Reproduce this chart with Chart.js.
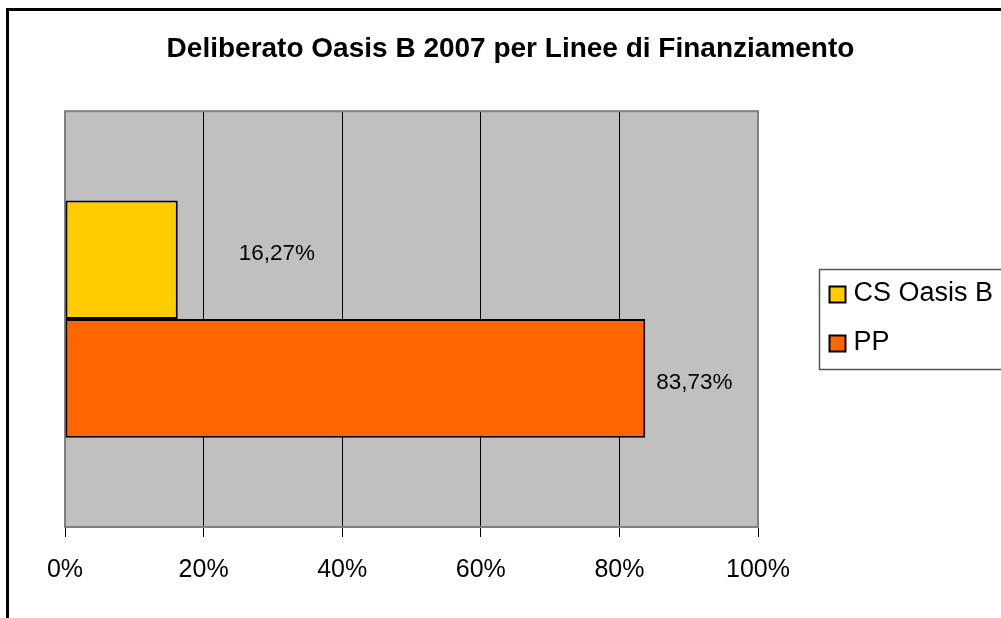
<!DOCTYPE html>
<html><head><meta charset="utf-8">
<script src="https://cdn.jsdelivr.net/npm/chart.js@4"></script>
<style>html,body{margin:0;padding:0;background:#fff;overflow:hidden}#wrap{width:1001px;height:618px;position:relative}</style>
</head><body><div id="wrap"><canvas id="c" width="1001" height="618"></canvas></div>
<script>
const chartTitle = 'Deliberato Oasis B 2007 per Linee di Finanziamento';
const categories = ['Linee di Finanziamento'];
const seriesNames = ['CS Oasis B', 'PP'];
const csOasisB = [16.27];
const pp = [83.73];
const seriesColors = ['#FFCC00', '#FF6600'];
const xTickValues = [0, 20, 40, 60, 80, 100];

const FONT = "'Liberation Sans', Arial, sans-serif";
function fmtPct(v, dec) { return v.toFixed(dec).replace('.', ',') + '%'; }

const framePlugin = {
  id: 'frame',
  beforeDraw(chart) {
    const { ctx, chartArea: a } = chart;
    ctx.save();
    ctx.fillStyle = '#fff';
    ctx.fillRect(0, 0, chart.width, chart.height);
    ctx.strokeStyle = '#000';
    ctx.lineWidth = 3;
    ctx.strokeRect(7.5, 9.5, 1100, 700);
    ctx.fillStyle = '#C0C0C0';
    ctx.fillRect(a.left, a.top, a.right - a.left, a.bottom - a.top);
    ctx.restore();
  },
  beforeDatasetsDraw(chart) {
    const { ctx, chartArea: a } = chart;
    ctx.save();
    ctx.strokeStyle = '#808080';
    ctx.lineWidth = 2;
    ctx.strokeRect(a.left, a.top, a.right - a.left, a.bottom - a.top);
    ctx.restore();
  }
};

const labelPlugin = {
  id: 'valueLabels',
  afterDatasetsDraw(chart, args, opts) {
    const { ctx } = chart;
    ctx.save();
    ctx.fillStyle = '#000';
    ctx.font = opts.size + 'px ' + FONT;
    ctx.textAlign = 'left';
    ctx.textBaseline = 'middle';
    chart.data.datasets.forEach((ds, i) => {
      chart.getDatasetMeta(i).data.forEach((el, j) => {
        ctx.fillText(fmtPct(ds.data[j], 2), el.x + opts.dx[i], el.y + opts.dy[i]);
      });
    });
    ctx.restore();
  }
};

const legendPlugin = {
  id: 'boxLegend',
  afterDraw(chart, args, o) {
    const { ctx } = chart;
    ctx.save();
    ctx.strokeStyle = '#555';
    ctx.lineWidth = 1.5;
    ctx.strokeRect(o.left, o.top, 400, o.height);
    ctx.font = o.size + 'px ' + FONT;
    ctx.textAlign = 'left';
    ctx.textBaseline = 'middle';
    chart.data.datasets.forEach((ds, i) => {
      const y = o.top + o.firstRow + i * o.rowGap;
      ctx.fillStyle = ds.backgroundColor;
      ctx.fillRect(o.left + 10, y - 8, 16, 16);
      ctx.strokeStyle = '#000';
      ctx.lineWidth = 2;
      ctx.strokeRect(o.left + 10, y - 8, 16, 16);
      ctx.fillStyle = '#000';
      ctx.fillText(ds.label, o.left + 34, y - 1);
    });
    ctx.restore();
  }
};

new Chart(document.getElementById('c'), {
  type: 'bar',
  data: {
    labels: categories,
    datasets: [
      { label: seriesNames[0], data: csOasisB, backgroundColor: seriesColors[0], borderColor: '#000', borderWidth: 2, borderSkipped: false, categoryPercentage: 0.571, barPercentage: 1 },
      { label: seriesNames[1], data: pp, backgroundColor: seriesColors[1], borderColor: '#000', borderWidth: 2, borderSkipped: false, categoryPercentage: 0.571, barPercentage: 1 }
    ]
  },
  plugins: [framePlugin, labelPlugin, legendPlugin],
  options: {
    indexAxis: 'y',
    responsive: false,
    animation: false,
    devicePixelRatio: 1,
    layout: { padding: { left: 20, right: 0, top: 0, bottom: 0 } },
    plugins: {
      legend: { display: false },
      tooltip: { enabled: false },
      title: {
        display: true, text: chartTitle, color: '#000',
        font: { family: FONT, size: 28, weight: 'bold' },
        padding: { top: 32, bottom: 45.6 }
      },
      valueLabels: { size: 22.5, dx: [61, 11], dy: [-6, 4] },
      boxLegend: { left: 819.5, top: 269.5, height: 100, firstRow: 25, rowGap: 49, size: 27 }
    },
    scales: {
      x: {
        min: xTickValues[0], max: xTickValues[xTickValues.length - 1],
        afterBuildTicks(s) { s.ticks = xTickValues.map(v => ({ value: v })); },
        ticks: { callback: v => v + '%', color: '#000', font: { family: FONT, size: 25 }, padding: 18, maxRotation: 0, autoSkip: false },
        grid: {
          color: c => (c.index === 0 || c.index === xTickValues.length - 1) ? '#808080' : '#000',
          lineWidth: 1, tickLength: 10, tickColor: '#000', drawOnChartArea: true
        },
        border: { display: true, color: '#808080', width: 2 },
        afterFit(s) { s.height = 91; }
      },
      y: {
        display: true, position: 'left',
        ticks: { display: false }, grid: { display: false }, border: { display: false },
        afterFit(s) { s.width = 45; }
      },
      yR: {
        type: 'category', display: true, position: 'right',
        ticks: { display: false }, grid: { display: false }, border: { display: false },
        afterFit(s) { s.width = 243; }
      }
    }
  }
});
</script>
</body></html>
